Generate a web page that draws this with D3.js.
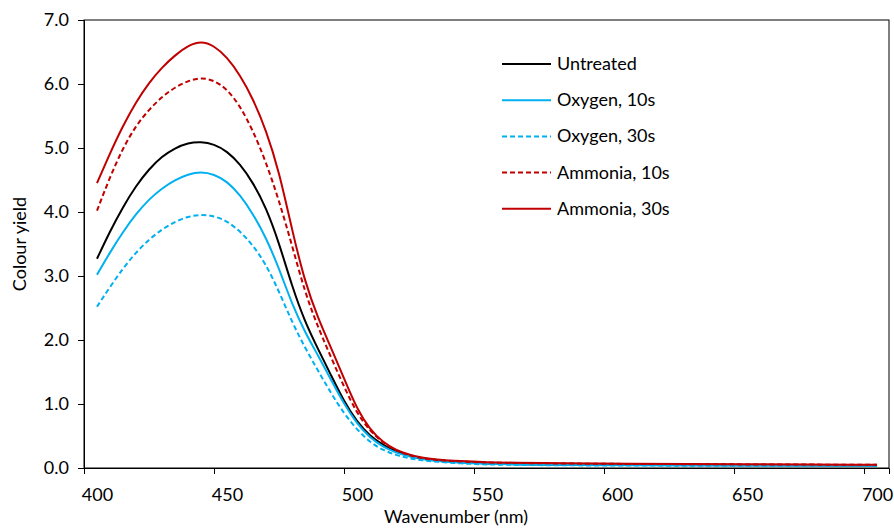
<!DOCTYPE html>
<html>
<head>
<meta charset="utf-8">
<script src="https://cdn.jsdelivr.net/npm/d3@7"></script>
<style>
    body { margin: 0; background: #fff; }
    svg text { font-family: Lato, "Open Sans", sans-serif; fill: #000; }
</style>
</head>
<body>
<div id="chart"></div>
<script>
// wavelengths (nm) for every series
const wavelengths = [400, 405, 410, 415, 420, 425, 430, 435, 440, 445, 450, 455, 460, 465,
    470, 475, 480, 485, 490, 495, 500, 505, 510, 515, 520, 525,
    530, 540, 550, 560, 580, 600, 650, 700];

const untreated = [3.27, 3.70, 4.08, 4.41, 4.67, 4.87, 5.00, 5.08, 5.10, 5.06, 4.95, 4.75, 4.46, 4.07,
    3.52, 2.84, 2.28, 1.86, 1.45, 1.04, 0.72, 0.50, 0.36, 0.26, 0.19, 0.15,
    0.12, 0.085, 0.07, 0.06, 0.05, 0.047, 0.043, 0.04];
const oxygen10 = [3.02, 3.37, 3.69, 3.97, 4.20, 4.37, 4.50, 4.59, 4.63, 4.59, 4.48, 4.27, 3.97, 3.60,
    3.12, 2.56, 2.12, 1.76, 1.38, 1.00, 0.69, 0.47, 0.33, 0.24, 0.18, 0.14,
    0.11, 0.08, 0.065, 0.055, 0.047, 0.043, 0.04, 0.037];
const oxygen30 = [2.52, 2.83, 3.12, 3.37, 3.57, 3.73, 3.85, 3.93, 3.96, 3.94, 3.86, 3.70, 3.48, 3.18,
    2.76, 2.28, 1.88, 1.52, 1.17, 0.85, 0.60, 0.40, 0.28, 0.20, 0.15, 0.12,
    0.10, 0.07, 0.055, 0.048, 0.042, 0.038, 0.035, 0.033];
const ammonia10 = [4.02, 4.55, 5.00, 5.35, 5.60, 5.80, 5.95, 6.05, 6.10, 6.06, 5.92, 5.66, 5.27, 4.78,
    4.18, 3.48, 2.74, 2.20, 1.73, 1.27, 0.85, 0.58, 0.39, 0.27, 0.20, 0.15,
    0.125, 0.10, 0.085, 0.078, 0.07, 0.064, 0.056, 0.05];
const ammonia30 = [4.45, 4.92, 5.35, 5.72, 6.02, 6.26, 6.45, 6.60, 6.67, 6.60, 6.42, 6.14, 5.77, 5.28,
    4.64, 3.72, 2.90, 2.34, 1.88, 1.40, 0.92, 0.60, 0.40, 0.28, 0.21, 0.16,
    0.135, 0.105, 0.09, 0.082, 0.072, 0.066, 0.058, 0.05];

const seriesNames = ['Untreated', 'Oxygen, 10s', 'Oxygen, 30s', 'Ammonia, 10s', 'Ammonia, 30s'];
const seriesValues = [untreated, oxygen10, oxygen30, ammonia10, ammonia30];
const seriesColors = ['#000000', '#00B0F0', '#00B0F0', '#C00000', '#C00000'];
const seriesDashed = [false, false, true, true, false];

const xTicks = [400, 450, 500, 550, 600, 650, 700];
const yTicks = [0, 1, 2, 3, 4, 5, 6, 7];

const config = {
    width: 894,
    height: 528,
    margin: { left: 84, top: 20, right: 5, bottom: 60 }
};

const plotW = config.width - config.margin.left - config.margin.right;
const plotH = config.height - config.margin.top - config.margin.bottom;

// category-style axis: ticks sit half a step before each label
const x = d3.scaleLinear().domain([395, 704.6]).range([0, plotW]);
const y = d3.scaleLinear().domain([0, 7]).range([plotH, 0]);
const halfStep = x(405) - x(400);

const svg = d3.select('#chart')
    .append('svg')
    .attr('width', config.width)
    .attr('height', config.height);

const g = svg.append('g')
    .attr('transform', `translate(${config.margin.left},${config.margin.top})`);

// plot area border
g.append('rect')
    .attr('x', 0).attr('y', 0)
    .attr('width', plotW).attr('height', plotH)
    .attr('fill', 'none')
    .attr('stroke', '#000')
    .attr('stroke-width', 1);

const line = d3.line()
    .x((d, i) => x(wavelengths[i]))
    .y(d => y(d))
    .curve(d3.curveBasis);

seriesValues.forEach((values, i) => {
    g.append('path')
        .datum(values)
        .attr('d', line)
        .attr('fill', 'none')
        .attr('stroke', seriesColors[i])
        .attr('stroke-width', 2)
        .attr('stroke-dasharray', seriesDashed[i] ? '5,3' : null);
});

// axes
const xAxis = g.append('g')
    .attr('transform', `translate(0,${plotH})`)
    .call(d3.axisBottom(x).tickValues(xTicks).tickSize(6).tickPadding(14).tickFormat(d3.format('d')));
xAxis.selectAll('.tick line').attr('x1', -halfStep).attr('x2', -halfStep);
xAxis.selectAll('text').style('font-size', '18px');

const yAxis = g.append('g')
    .call(d3.axisLeft(y).tickValues(yTicks).tickSize(6).tickPadding(9).tickFormat(d3.format('.1f')));
yAxis.selectAll('text').style('font-size', '18px');

[xAxis, yAxis].forEach(ax => {
    ax.select('.domain').attr('stroke', '#000');
    ax.selectAll('.tick line').attr('stroke', '#000');
});

// axis titles
svg.append('text')
    .attr('x', 456)
    .attr('y', 523)
    .attr('text-anchor', 'middle')
    .style('font-size', '18px')
    .text('Wavenumber (nm)');

svg.append('text')
    .attr('transform', 'translate(26,244) rotate(-90)')
    .attr('text-anchor', 'middle')
    .style('font-size', '18px')
    .text('Colour yield');

// legend
const legend = svg.append('g').attr('transform', 'translate(502,64)');
seriesNames.forEach((name, i) => {
    const row = legend.append('g').attr('transform', `translate(0,${i * 36.2})`);
    row.append('line')
        .attr('x1', 0).attr('x2', 49)
        .attr('y1', 0).attr('y2', 0)
        .attr('stroke', seriesColors[i])
        .attr('stroke-width', 2)
        .attr('stroke-dasharray', seriesDashed[i] ? '5,3' : null);
    row.append('text')
        .attr('x', 55)
        .attr('y', 6)
        .style('font-size', '18px')
        .text(name);
});
</script>
</body>
</html>
